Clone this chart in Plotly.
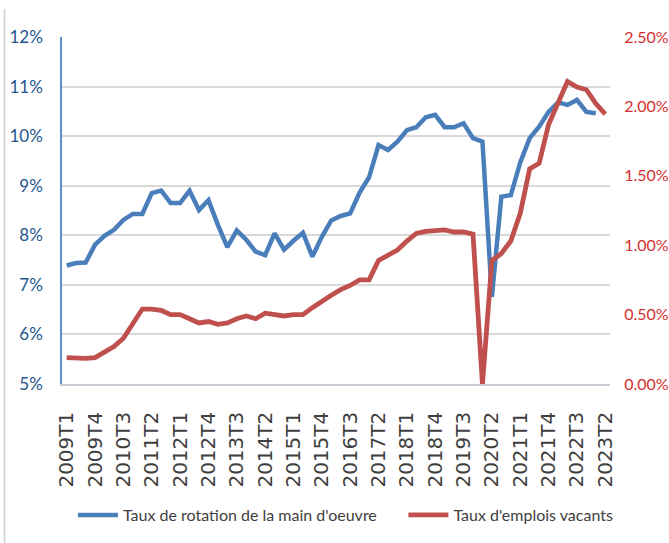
import plotly.graph_objects as go

quarters = [f"{y}T{q}" for y in range(2009, 2024) for q in range(1, 5)][:58]
tick_labels = quarters[::3]

rotation_main_oeuvre = [
    7.39, 7.44, 7.45, 7.81, 7.99, 8.11, 8.31, 8.43, 8.43, 8.85,
    8.90, 8.65, 8.65, 8.90, 8.51, 8.71, 8.21, 7.76, 8.10, 7.91,
    7.67, 7.60, 8.04, 7.71, 7.89, 8.05, 7.57, 7.97, 8.30, 8.39,
    8.44, 8.86, 9.17, 9.82, 9.72, 9.89, 10.12, 10.18, 10.38, 10.43,
    10.18, 10.18, 10.26, 9.96, 9.89, 6.76, 8.78, 8.81, 9.47, 9.96,
    10.19, 10.49, 10.68, 10.63, 10.73, 10.49, 10.46,
]

emplois_vacants = [
    0.19, 0.185, 0.185, 0.19, 0.23, 0.27, 0.33, 0.43, 0.54, 0.54,
    0.53, 0.50, 0.50, 0.47, 0.44, 0.45, 0.43, 0.44, 0.47, 0.49,
    0.47, 0.51, 0.50, 0.49, 0.50, 0.50, 0.55, 0.59, 0.64, 0.68,
    0.71, 0.75, 0.75, 0.89, 0.93, 0.965, 1.03, 1.085, 1.10, 1.105,
    1.11, 1.095, 1.095, 1.08, 0.0, 0.89, 0.94, 1.03, 1.23, 1.55,
    1.59, 1.87, 2.03, 2.18, 2.14, 2.12, 2.02, 1.945,
]

name_blue = "Taux de rotation de la main d'oeuvre"
name_red = "Taux d'emplois vacants"

BLUE = "#4A7EBB"
RED = "#C0504D"
FONT = "Lato, Liberation Sans, sans-serif"

fig = go.Figure()
fig.add_trace(go.Scatter(
    x=quarters[:len(rotation_main_oeuvre)], y=rotation_main_oeuvre,
    mode="lines", name=name_blue,
    line=dict(color=BLUE, width=4.5),
    yaxis="y", legend="legend",
))
fig.add_trace(go.Scatter(
    x=quarters[:len(emplois_vacants)], y=emplois_vacants,
    mode="lines", name=name_red,
    line=dict(color=RED, width=4.8),
    yaxis="y2", legend="legend2",
))

legend_common = dict(
    orientation="h", yanchor="middle", y=-0.3775, xanchor="left",
    font=dict(family=FONT, size=16, color="#404040"),
    itemwidth=40, bgcolor="rgba(0,0,0,0)",
)

fig.update_layout(
    width=669, height=543,
    margin=dict(l=62, r=59, t=37, b=159, autoexpand=False),
    paper_bgcolor="white", plot_bgcolor="white",
    font=dict(family=FONT, size=16, color="#404040"),
    showlegend=True,
    legend=dict(legend_common, x=0.02),
    legend2=dict(legend_common, x=0.623),
    xaxis=dict(
        type="category",
        categoryorder="array", categoryarray=quarters,
        range=[-0.5, 57.5],
        tickmode="array", tickvals=tick_labels, ticktext=tick_labels,
        tickangle=-90,
        tickfont=dict(family="DejaVu Sans, sans-serif", size=20, color="#404040"),
        ticks="outside", ticklen=18, tickcolor="rgba(0,0,0,0)",
        showgrid=False, zeroline=False, automargin=False,
        showline=True, linecolor="#C8CDD6", linewidth=1.5,
    ),
    yaxis=dict(
        range=[5, 12], dtick=1, ticksuffix="%",
        tickfont=dict(family=FONT, size=17, color="#24568C"),
        showgrid=True, gridcolor="#D9D9D9", gridwidth=1.5,
        zeroline=False, automargin=False,
        showline=True, linecolor="#5B8FD0", linewidth=1.5,
        ticks="outside", ticklen=14, tickcolor="rgba(0,0,0,0)",
    ),
    yaxis2=dict(
        range=[0, 2.5], dtick=0.5, tickformat=".2f", ticksuffix="%",
        overlaying="y", side="right",
        tickfont=dict(family=FONT, size=16, color="#D42F2F"),
        showgrid=False, zeroline=False, showline=False, automargin=False,
        ticks="outside", ticklen=10, tickcolor="rgba(0,0,0,0)",
    ),
    shapes=[
        dict(type="line", xref="paper", yref="paper",
             x0=-0.105, x1=-0.105, y0=1.08, y1=-0.46,
             line=dict(color="#D0D0D0", width=1.5)),
    ],
)

fig.write_html(
    "out.html",
    config={"displayModeBar": False},
    post_script="document.body.style.margin='0';document.body.style.overflow='hidden';",
)
